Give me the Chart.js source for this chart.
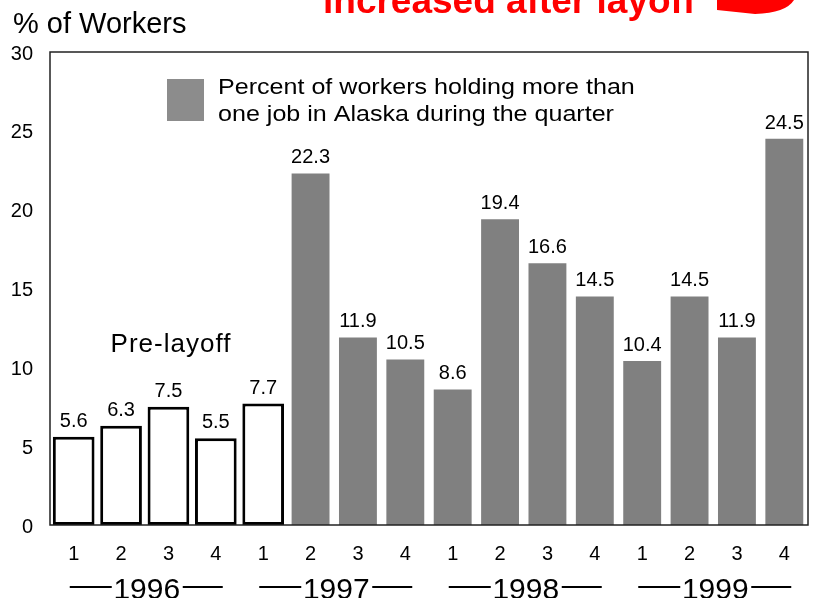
<!DOCTYPE html>
<html>
<head>
<meta charset="utf-8">
<script src="https://cdn.jsdelivr.net/npm/chart.js@4/dist/chart.umd.min.js"></script>
<style>
    html, body { margin: 0; padding: 0; background: #ffffff; }
    #wrap { width: 814px; height: 598px; }
</style>
</head>
<body>
<div id="wrap"><canvas id="multiJobChart" width="814" height="598"></canvas></div>
<script>
// Chart data
const quarters = ['1', '2', '3', '4', '1', '2', '3', '4', '1', '2', '3', '4', '1', '2', '3', '4'];
const years = ['1996', '1997', '1998', '1999'];
const percentValues = [5.6, 6.3, 7.5, 5.5, 7.7, 22.3, 11.9, 10.5, 8.6, 19.4, 16.6, 14.5, 10.4, 14.5, 11.9, 24.5];
const preLayoffCount = 5;
const yTicks = [0, 5, 10, 15, 20, 25, 30];

const legendLines = ['Percent of workers holding more than', 'one job in Alaska during the quarter'];
const titleText = 'increased after layoff';

const FONT = '"Liberation Sans", Arial, sans-serif';
const NARROW_FONT = '"Liberation Sans Narrow", "Arial Narrow", "Liberation Sans", sans-serif';

// Split the series into the pre-layoff (outlined) bars and the rest
const preValues = percentValues.map((v, i) => i < preLayoffCount ? v : null);
const postValues = percentValues.map((v, i) => i >= preLayoffCount ? v : null);

// Draw text stretched horizontally around its left edge
function wideText(ctx, text, x, y, sx) {
    ctx.save();
    ctx.translate(x, y);
    ctx.scale(sx, 1);
    ctx.fillText(text, 0, 0);
    ctx.restore();
}

// Box around plot area, value labels and other annotations
const annotationsPlugin = {
    id: 'annotations',
    afterDatasetsDraw(chart) {
        const ctx = chart.ctx;
        const area = chart.chartArea;
        const xScale = chart.scales.x;

        ctx.save();

        // plot frame
        ctx.strokeStyle = '#222222';
        ctx.lineWidth = 1.5;
        ctx.strokeRect(area.left, area.top, area.right - area.left, area.bottom - area.top);

        // value labels above bars
        ctx.fillStyle = '#000000';
        ctx.font = '20px ' + FONT;
        ctx.textAlign = 'center';
        ctx.textBaseline = 'alphabetic';
        chart.data.datasets.forEach((ds, di) => {
            const meta = chart.getDatasetMeta(di);
            meta.data.forEach((bar, i) => {
                if (ds.data[i] === null) return;
                ctx.fillText(ds.data[i].toFixed(1), bar.x, bar.y - 10);
            });
        });

        // pre-layoff note
        ctx.font = '26px ' + FONT;
        ctx.letterSpacing = '1px';
        ctx.fillText('Pre-layoff', 171, 352);
        ctx.letterSpacing = '0px';

        // axis title
        ctx.textAlign = 'left';
        ctx.font = '29px ' + FONT;
        ctx.fillText('% of Workers', 13, 33);

        // legend
        ctx.fillStyle = '#8c8c8c';
        ctx.fillRect(167, 79, 37, 42);
        ctx.fillStyle = '#000000';
        ctx.font = '22px ' + FONT;
        wideText(ctx, legendLines[0], 218, 94, 1.14);
        wideText(ctx, legendLines[1], 218, 121, 1.14);

        // title (cut off at the top of the picture)
        ctx.fillStyle = '#ff0000';
        ctx.font = 'bold 37px ' + FONT;
        ctx.fillText(titleText, 323, 13);

        ctx.beginPath();
        ctx.moveTo(717, 0);
        ctx.lineTo(717, 10);
        ctx.lineTo(755, 14);
        ctx.quadraticCurveTo(786, 13, 794, 0);
        ctx.closePath();
        ctx.fill();

        // year labels with dashes
        ctx.fillStyle = '#000000';
        ctx.strokeStyle = '#000000';
        ctx.lineWidth = 2;
        ctx.font = '30px ' + NARROW_FONT;
        ctx.textAlign = 'center';
        years.forEach((year, yi) => {
            let sum = 0;
            for (let q = 0; q < 4; q++) sum += xScale.getPixelForValue(yi * 4 + q);
            const cx = sum / 4 + 2;
            ctx.fillText(year, cx, 599);
            ctx.beginPath();
            ctx.moveTo(cx - 77, 587);
            ctx.lineTo(cx - 35, 587);
            ctx.moveTo(cx + 36, 587);
            ctx.lineTo(cx + 76, 587);
            ctx.stroke();
        });

        ctx.restore();
    }
};

const chart = new Chart(document.getElementById('multiJobChart').getContext('2d'), {
    type: 'bar',
    data: {
        labels: quarters,
        datasets: [
            {
                label: 'Pre-layoff',
                data: preValues,
                backgroundColor: '#ffffff',
                borderColor: '#000000',
                borderWidth: 3,
                borderSkipped: false,
                barPercentage: 0.88,
                categoryPercentage: 1.0
            },
            {
                label: legendLines.join(' '),
                data: postValues,
                backgroundColor: '#808080',
                borderWidth: 0,
                barPercentage: 0.8,
                categoryPercentage: 1.0
            }
        ]
    },
    options: {
        responsive: false,
        animation: false,
        devicePixelRatio: 1,
        layout: { padding: { top: 52, right: 6, left: 0, bottom: 0 } },
        datasets: { bar: { grouped: false } },
        plugins: {
            legend: { display: false },
            tooltip: { enabled: false }
        },
        scales: {
            x: {
                grid: { display: false, drawTicks: false },
                border: { display: false },
                ticks: {
                    color: '#000000',
                    font: { family: FONT, size: 20 },
                    padding: 17,
                    maxRotation: 0,
                    autoSkip: false
                },
                afterFit(scale) { scale.height = 73; }
            },
            y: {
                min: 0,
                max: 30,
                grid: { display: false, drawTicks: false },
                border: { display: false },
                afterBuildTicks(scale) { scale.ticks = yTicks.map(v => ({ value: v })); },
                ticks: {
                    color: '#000000',
                    font: { family: FONT, size: 20 },
                    padding: 17,
                    labelOffset: 2
                },
                afterFit(scale) { scale.width = 50; }
            }
        }
    },
    plugins: [annotationsPlugin]
});
</script>
</body>
</html>
